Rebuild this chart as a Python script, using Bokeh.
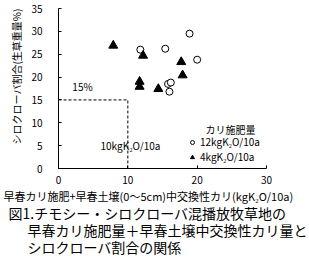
from bokeh.plotting import figure
from bokeh.models import Label, Legend, LegendItem, Range1d, FixedTicker, Title
from bokeh.embed import file_html
from bokeh.resources import INLINE

# Data
k12_x = [11.8, 15.4, 18.9, 20.0, 15.8, 16.2, 16.0]
k12_y = [26.0, 26.2, 29.5, 23.8, 18.5, 18.8, 16.8]
k4_x = [7.9, 12.2, 11.7, 11.7, 14.4, 17.7, 17.9]
k4_y = [26.9, 24.7, 19.0, 17.9, 17.4, 23.3, 20.4]
x_ticks = [0, 10, 20, 30]
y_ticks = [0, 5, 10, 15, 20, 25, 30, 35]
threshold_x = 10
threshold_y = 15

FONT = "Noto Sans CJK JP"
W, H = 309, 265

p = figure(width=W, height=H, output_backend="svg", toolbar_location=None,
           x_range=Range1d(0, 30), y_range=Range1d(0, 35),
           min_border_left=58, min_border_right=43, min_border_top=8, min_border_bottom=97)
p.outline_line_color = None
p.grid.visible = False
p.background_fill_color = "white"
p.border_fill_color = "white"

for ax in (p.xaxis[0], p.yaxis[0]):
    ax.minor_tick_line_color = None
    ax.major_tick_in = 3
    ax.major_tick_out = 0
    ax.axis_line_color = "black"
    ax.major_tick_line_color = "black"
    ax.major_label_text_font = FONT
    ax.major_label_text_font_size = "10px"
    ax.major_label_text_color = "black"
    ax.axis_label = None
p.xaxis.ticker = FixedTicker(ticks=x_ticks)
p.yaxis.ticker = FixedTicker(ticks=y_ticks)
p.xaxis.major_label_standoff = 7
p.yaxis.major_label_standoff = 16

# threshold dashed lines
p.line([0, threshold_x], [threshold_y, threshold_y], line_color="black", line_width=1, line_dash="3 2")
p.line([threshold_x, threshold_x], [0, threshold_y], line_color="black", line_width=1, line_dash="3 2")

r12 = p.scatter(k12_x, k12_y, marker="circle", size=7, fill_color="white", line_color="black", line_width=1)
r4 = p.scatter(k4_x, k4_y, marker="triangle", size=9, fill_color="black", line_color="black")

legend = Legend(items=[LegendItem(label="12kgK₂O/10a", renderers=[r12]),
                       LegendItem(label="4kgK₂O/10a", renderers=[r4])],
                location=(129, 4), orientation="vertical",
                background_fill_alpha=0, border_line_color=None,
                padding=0, margin=0, spacing=0,
                glyph_width=10, glyph_height=10, label_height=10, label_standoff=3,
                label_text_font=FONT, label_text_font_size="10px", label_text_color="black")
p.add_layout(legend, "center")

def lab(x, y, text, size, align="left"):
    p.add_layout(Label(x=x, y=y, text=text, text_font=FONT, text_font_size=size,
                       text_align=align, text_baseline="middle", text_color="black"))

lab(24.8, 8.6, "カリ施肥量", "10px", align="center")
lab(2.0, 17.9, "15%", "10px")
lab(6.06, 5.0, "10kgK₂O/10a", "10px")

def side_title(text, size, place, align, offset, standoff=0):
    t = Title(text=text, text_font=FONT, text_font_size=size, text_font_style="normal",
              text_color="black", align=align, offset=offset, standoff=standoff)
    p.add_layout(t, place)

side_title("シロクローバ割合(生草重量%)", "10px", "left", "right", 0, standoff=10)
side_title("早春カリ施肥+早春土壌(0〜5cm)中交換性カリ(kgK₂O/10a)", "11px", "below", "left", -55, standoff=-1)
side_title("図1.チモシー・シロクローバ混播放牧草地の", "14px", "below", "left", -50, standoff=-5)
side_title("早春カリ施肥量＋早春土壌中交換性カリ量と", "14px", "below", "left", -31, standoff=-5)
side_title("シロクローバ割合の関係", "14px", "below", "left", -31, standoff=-5)

open("out.html", "w").write(file_html(p, INLINE))
